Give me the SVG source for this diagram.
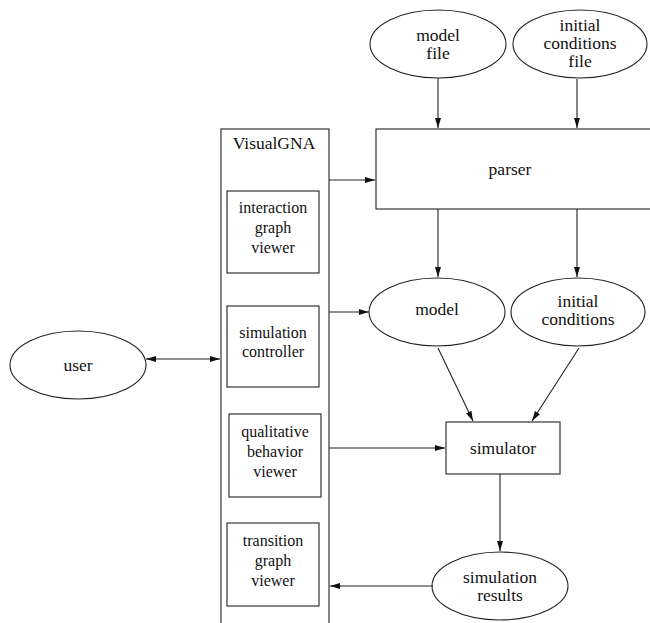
<svg xmlns="http://www.w3.org/2000/svg" width="650" height="623" viewBox="0 0 650 623">
<defs>
<marker id="ah" markerWidth="11" markerHeight="8" refX="10" refY="4" orient="auto" markerUnits="userSpaceOnUse">
<path d="M0,1 L10,4 L0,7 Z" fill="#111"/>
</marker>
<marker id="ahs" markerWidth="11" markerHeight="8" refX="0" refY="4" orient="auto" markerUnits="userSpaceOnUse">
<path d="M10,1 L0,4 L10,7 Z" fill="#111"/>
</marker>
</defs>
<style>
.s{fill:#fff;stroke:#222;stroke-width:1.1}
.t{font-family:'Liberation Serif','DejaVu Serif',serif;font-size:17.5px;fill:#111;text-anchor:middle}
.ts{font-family:'Liberation Serif','DejaVu Serif',serif;font-size:16px;fill:#111;text-anchor:middle}
.c{fill:none;stroke:#222;stroke-width:1.1}
</style>
<rect width="650" height="623" fill="#fff"/>
<g id="visualgna">
<rect class="s" x="221" y="129" width="108" height="500"/>
<text class="t" x="274" y="149">VisualGNA</text>
</g>
<g id="interaction-graph-viewer">
<rect class="s" x="227" y="191" width="92" height="82"/>
<text class="ts" x="273" y="213">interaction</text>
<text class="ts" x="273" y="233">graph</text>
<text class="ts" x="273" y="253">viewer</text>
</g>
<g id="simulation-controller">
<rect class="s" x="227" y="306" width="92" height="81"/>
<text class="ts" x="273" y="338">simulation</text>
<text class="ts" x="273" y="357">controller</text>
</g>
<g id="qualitative-behavior-viewer">
<rect class="s" x="229" y="414" width="92" height="83"/>
<text class="ts" x="275" y="437">qualitative</text>
<text class="ts" x="275" y="457">behavior</text>
<text class="ts" x="275" y="477">viewer</text>
</g>
<g id="transition-graph-viewer">
<rect class="s" x="227" y="523" width="92" height="83"/>
<text class="ts" x="273" y="546">transition</text>
<text class="ts" x="273" y="566">graph</text>
<text class="ts" x="273" y="586">viewer</text>
</g>
<g id="model-file">
<ellipse class="s" cx="438" cy="44" rx="68" ry="34"/>
<text class="t" x="438" y="41">model</text>
<text class="t" x="438" y="59">file</text>
</g>
<g id="initial-conditions-file">
<ellipse class="s" cx="580" cy="44" rx="67" ry="34"/>
<text class="t" x="580" y="31">initial</text>
<text class="t" x="580" y="49">conditions</text>
<text class="t" x="580" y="67">file</text>
</g>
<g id="parser">
<rect class="s" x="376" y="129" width="290" height="80"/>
<text class="t" x="510" y="175">parser</text>
</g>
<g id="model">
<ellipse class="s" cx="437" cy="312" rx="68" ry="34"/>
<text class="t" x="437" y="315">model</text>
</g>
<g id="initial-conditions">
<ellipse class="s" cx="578" cy="312" rx="67" ry="34"/>
<text class="t" x="578" y="307">initial</text>
<text class="t" x="578" y="325">conditions</text>
</g>
<g id="simulator">
<rect class="s" x="446" y="422" width="114" height="52"/>
<text class="t" x="503" y="454">simulator</text>
</g>
<g id="simulation-results">
<ellipse class="s" cx="500" cy="586" rx="68" ry="34"/>
<text class="t" x="500" y="583">simulation</text>
<text class="t" x="500" y="601">results</text>
</g>
<g id="user">
<ellipse class="s" cx="78" cy="365" rx="68" ry="34"/>
<text class="t" x="78" y="371">user</text>
</g>
<g id="connectors">
<line class="c" x1="438" y1="78" x2="438" y2="128" marker-end="url(#ah)"/>
<line class="c" x1="577" y1="79" x2="577" y2="128" marker-end="url(#ah)"/>
<line class="c" x1="329" y1="180" x2="375" y2="180" marker-end="url(#ah)"/>
<line class="c" x1="438" y1="209" x2="438" y2="277" marker-end="url(#ah)"/>
<line class="c" x1="577" y1="209" x2="577" y2="277" marker-end="url(#ah)"/>
<line class="c" x1="329" y1="312" x2="369" y2="312" marker-end="url(#ah)"/>
<line class="c" x1="146" y1="359" x2="220" y2="359" marker-start="url(#ahs)" marker-end="url(#ah)"/>
<line class="c" x1="438" y1="348" x2="473" y2="421" marker-end="url(#ah)"/>
<line class="c" x1="579" y1="348" x2="532" y2="421" marker-end="url(#ah)"/>
<line class="c" x1="329" y1="448" x2="445" y2="448" marker-end="url(#ah)"/>
<line class="c" x1="500" y1="474" x2="500" y2="551" marker-end="url(#ah)"/>
<line class="c" x1="433" y1="586" x2="330" y2="586" marker-end="url(#ah)"/>
</g>
</svg>
